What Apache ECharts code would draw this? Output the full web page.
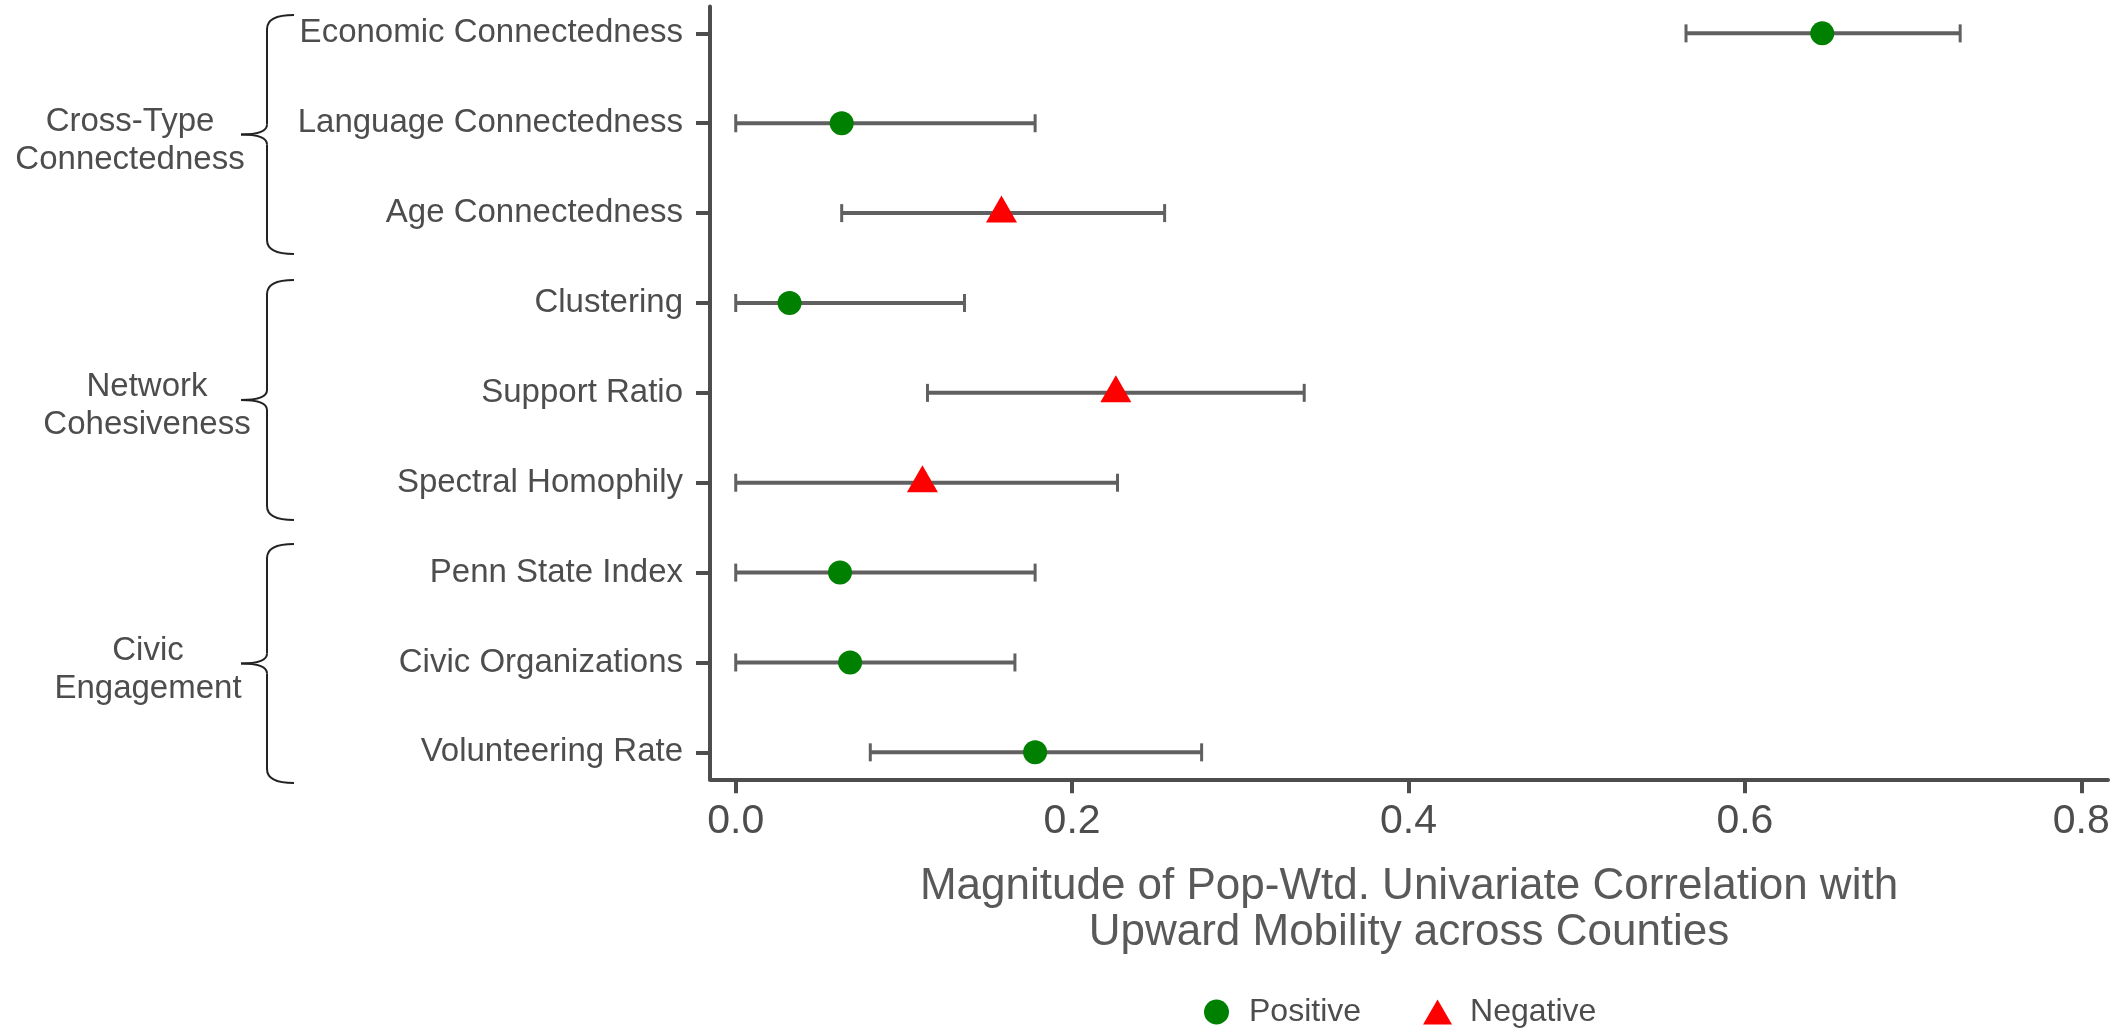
<!DOCTYPE html>
<html>
<head>
<meta charset="utf-8">
<script src="https://cdn.jsdelivr.net/npm/echarts@6/dist/echarts.min.js"></script>
<style>
html, body { margin: 0; padding: 0; background: #fff; }
#chart { width: 2128px; height: 1031px; }
</style>
</head>
<body>
<div id="chart"></div>
<script>
// ---- data (top to bottom) ----
const categories = ['Economic Connectedness', 'Language Connectedness', 'Age Connectedness',
  'Clustering', 'Support Ratio', 'Spectral Homophily',
  'Penn State Index', 'Civic Organizations', 'Volunteering Rate'];
const estimates = [0.646, 0.063, 0.158, 0.032, 0.226, 0.111, 0.062, 0.068, 0.178];
const lower     = [0.565, 0.000, 0.063, 0.000, 0.114, 0.000, 0.000, 0.000, 0.080];
const upper     = [0.728, 0.178, 0.255, 0.136, 0.338, 0.227, 0.178, 0.166, 0.277];
const signs     = ['Positive', 'Positive', 'Negative', 'Positive', 'Negative', 'Negative',
  'Positive', 'Positive', 'Positive'];
const groupNames = ['Cross-Type\nConnectedness', 'Network\nCohesiveness', 'Civic\nEngagement'];
const xTicks = [0, 0.2, 0.4, 0.6, 0.8];
const xTitle = 'Magnitude of Pop-Wtd. Univariate Correlation with\nUpward Mobility across Counties';

const n = categories.length;
const pos = i => n - 1 - i;            // row position, bottom = 0
const yTicks = categories.map((c, i) => pos(i));

const errData = categories.map((c, i) => [lower[i], pos(i), upper[i]]);
const posData = [], negData = [];
categories.forEach((c, i) => {
  (signs[i] === 'Positive' ? posData : negData).push([estimates[i], pos(i)]);
});

const FONT = '"Liberation Sans", Arial, Helvetica, sans-serif';
const AX = '#4d4d4d';

// brace layout (decorative annotations)
const braces = [
  { top: 15, bottom: 254 },
  { top: 280, bottom: 520 },
  { top: 544, bottom: 783 }
];
const groupTextX = [130, 147, 148];
const xv = 267, xh = 294, xt = 241;

const graphics = [];
const bst = { stroke: '#222', lineWidth: 2, fill: null };
braces.forEach((b, g) => {
  const m = (b.top + b.bottom) / 2;
  const parts = [
    { type: 'bezierCurve', shape: { x1: xh, y1: b.top, cpx1: xv, cpy1: b.top, x2: xv, y2: b.top + 14 }, style: bst },
    { type: 'line', shape: { x1: xv, y1: b.top + 14, x2: xv, y2: m - 10 }, style: bst },
    { type: 'bezierCurve', shape: { x1: xv, y1: m - 10, cpx1: xv, cpy1: m, x2: xt, y2: m }, style: bst },
    { type: 'bezierCurve', shape: { x1: xt, y1: m, cpx1: xv, cpy1: m, x2: xv, y2: m + 10 }, style: bst },
    { type: 'line', shape: { x1: xv, y1: m + 10, x2: xv, y2: b.bottom - 14 }, style: bst },
    { type: 'bezierCurve', shape: { x1: xv, y1: b.bottom - 14, cpx1: xv, cpy1: b.bottom, x2: xh, y2: b.bottom }, style: bst }
  ];
  parts.forEach(p => graphics.push(p));
  graphics.push({
    type: 'text', x: groupTextX[g], y: m + 6,
    style: { text: groupNames[g], font: `33px ${FONT}`, fill: AX,
      align: 'center', verticalAlign: 'middle', lineHeight: 38 }
  });
});

const chart = echarts.init(document.getElementById('chart'), null, { renderer: 'canvas' });
chart.setOption({
  animation: false,
  backgroundColor: '#fff',
  textStyle: { fontFamily: FONT },
  grid: { left: 710, right: 20, top: 6.4, bottom: 251.7, containLabel: false },
  xAxis: {
    type: 'value', min: -0.0153, max: 0.8159,
    splitLine: { show: false },
    axisLine: { show: true, onZero: false, lineStyle: { color: AX, width: 4 } },
    axisTick: { show: true, length: 14, lineStyle: { color: AX, width: 4 }, customValues: xTicks },
    axisLabel: { customValues: xTicks, formatter: v => v.toFixed(1), fontSize: 41, color: AX, margin: 22, fontFamily: FONT },
    name: xTitle, nameLocation: 'middle', nameGap: 85,
    nameTextStyle: { fontSize: 44, color: '#595959', lineHeight: 46, fontFamily: FONT }
  },
  yAxis: {
    type: 'value', min: -0.3, max: 8.3,
    splitLine: { show: false },
    axisLine: { show: true, onZero: false, lineStyle: { color: AX, width: 4 } },
    axisTick: { show: true, length: 14, lineStyle: { color: AX, width: 4 }, customValues: yTicks },
    axisLabel: { customValues: yTicks, formatter: v => categories[n - 1 - Math.round(v)],
      fontSize: 33, color: AX, margin: 27, fontFamily: FONT, padding: [9, 0, 0, 0] }
  },
  legend: {
    data: [{ name: 'Positive', icon: 'circle' }, { name: 'Negative', icon: 'triangle' }],
    left: 1199, top: 991, orient: 'horizontal',
    itemWidth: 29, itemHeight: 25, itemGap: 62,
    textStyle: { fontSize: 32, color: AX, fontFamily: FONT, padding: [0, 0, 0, 13] }
  },
  series: [
    {
      type: 'custom', name: 'CI', data: errData, z: 2,
      encode: { x: [0, 2], y: 1 },
      renderItem: (params, api) => {
        const lo = api.coord([api.value(0), api.value(1)]);
        const hi = api.coord([api.value(2), api.value(1)]);
        const cap = 9;
        const st = { stroke: '#606060', lineWidth: 4 };
        const cst = { stroke: '#606060', lineWidth: 3 };
        return {
          type: 'group', children: [
            { type: 'line', shape: { x1: lo[0], y1: lo[1], x2: hi[0], y2: hi[1] }, style: st },
            { type: 'line', shape: { x1: lo[0], y1: lo[1] - cap, x2: lo[0], y2: lo[1] + cap }, style: cst },
            { type: 'line', shape: { x1: hi[0], y1: hi[1] - cap, x2: hi[0], y2: hi[1] + cap }, style: cst }
          ]
        };
      }
    },
    {
      type: 'scatter', name: 'Positive', data: posData, z: 5,
      symbol: 'circle', symbolSize: 24,
      itemStyle: { color: '#008000', opacity: 1 }
    },
    {
      type: 'scatter', name: 'Negative', data: negData, z: 5,
      symbol: 'triangle', symbolSize: [31, 27], symbolOffset: [0, -4],
      itemStyle: { color: '#ff0000', opacity: 1 }
    }
  ],
  graphic: graphics
});
</script>
</body>
</html>
